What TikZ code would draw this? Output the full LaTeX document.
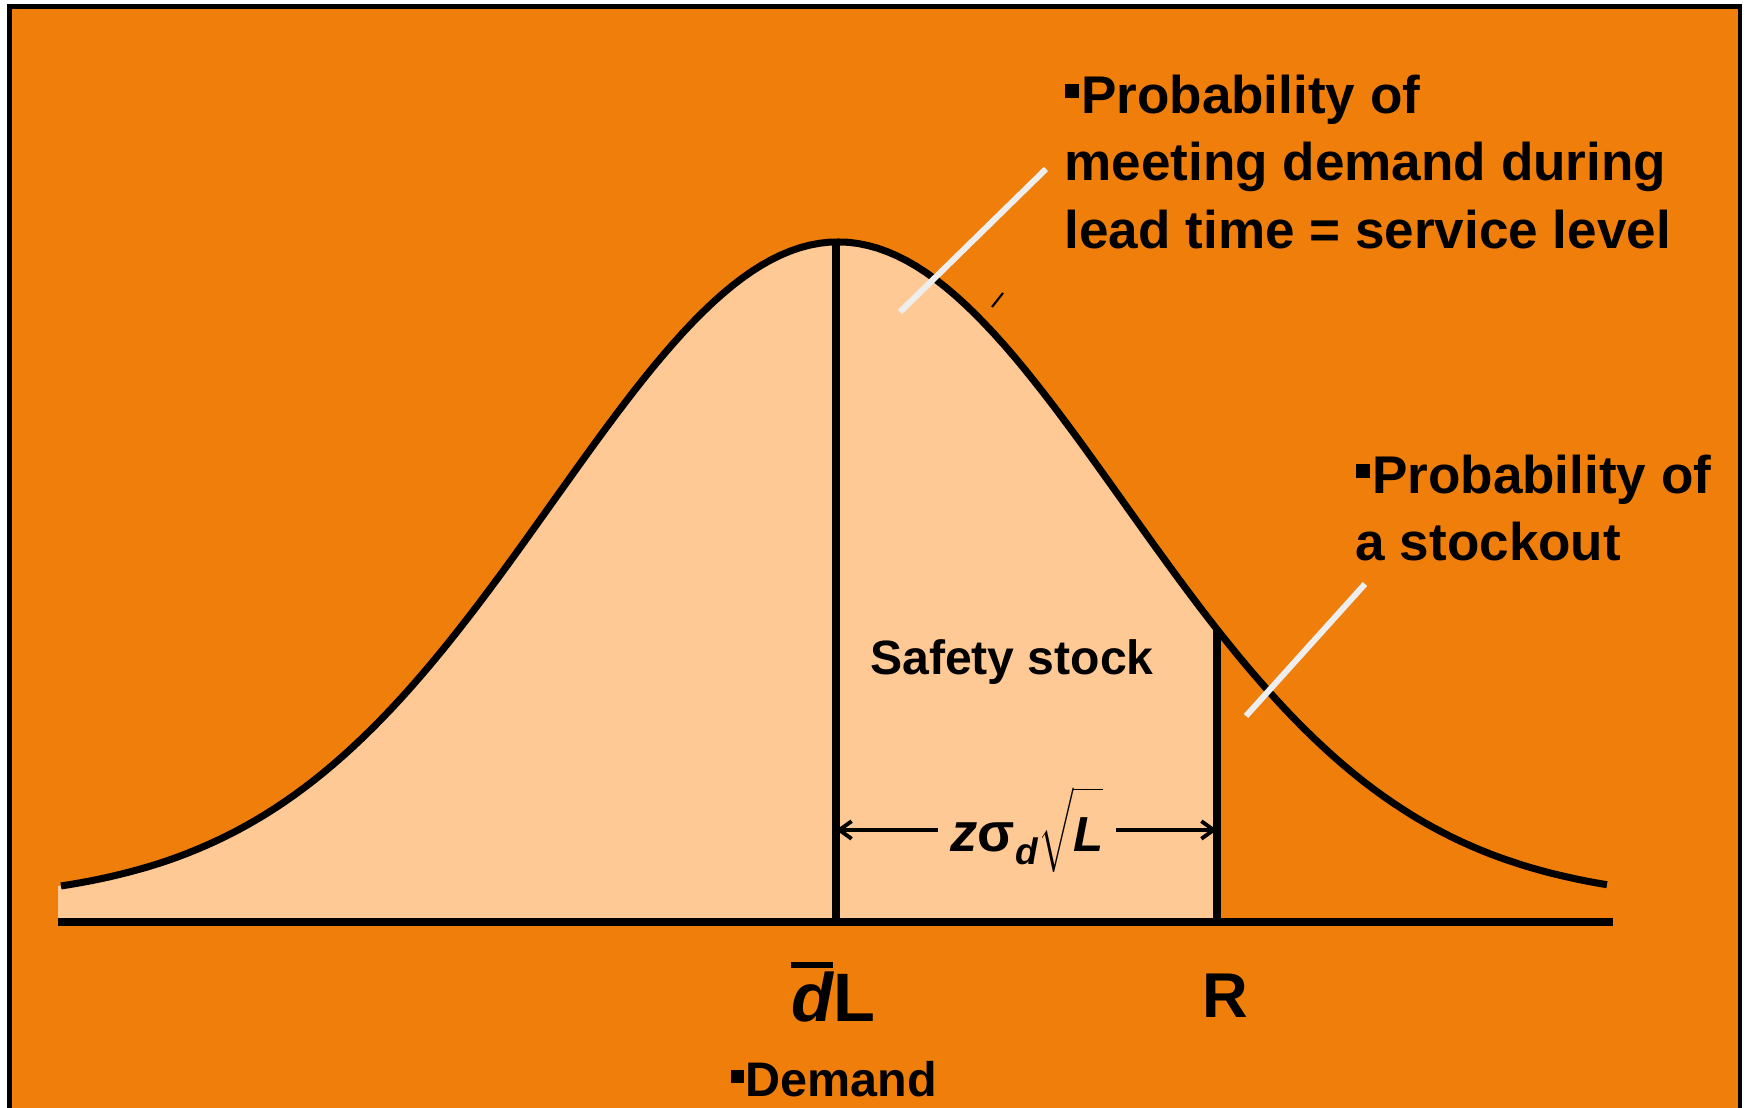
\documentclass[tikz,border=0pt]{standalone}
\usepackage{fontspec}
\setmainfont{Liberation Sans}
\usetikzlibrary{arrows.meta}
\definecolor{slide-orange}{HTML}{EF7F0A}
\definecolor{area-fill}{HTML}{FFC995}
\definecolor{leader-grey}{HTML}{EEEEEE}
\newcommand{\sqbullet}{\rule[0.28em]{0.27em}{0.27em}\kern0.04em}
\newcommand{\barred}[1]{\vbox{\hrule height 1.6pt\kern 1.2pt\hbox{#1}}}
\pgfmathdeclarefunction{bell}{1}{\pgfmathparse{2.06+6.6*exp(-0.5*((#1-8.38)/2.85)^2)}}

\begin{document}
\begin{tikzpicture}[
    curve/.style={line width=2pt, black},
    leader/.style={line width=1.7pt, leader-grey},
    bigtext/.style={font=\bfseries\fontsize{15.1}{19.2}\selectfont, align=left, inner sep=0pt},
    dimarrow/.style={line width=1.1pt, -{Straight Barb[length=3.5pt,width=5pt]}}]
    \useasboundingbox (0,0) rectangle (17.48,11.08);
    \fill[white] (0,0) rectangle (17.48,11.08);
    \draw[line width=1.4pt, fill=slide-orange] (0.095,-0.1) rectangle (17.40,11.015);
    % area up to R
    \fill[area-fill] (0.58,1.86) -- (0.58,{bell(0.61)})
      -- plot[domain=0.61:12.17, samples=120] (\x,{bell(\x)}) -- (12.17,1.86) -- cycle;
    \coordinate (mu) at (8.36,1.86);
    \coordinate (rp) at (12.17,1.86);
    \draw[curve] (mu) -- (8.36,{bell(8.36)});
    \draw[curve] (rp) -- (12.17,{bell(12.17)});
    \draw[curve] plot[domain=0.61:16.07, samples=160] (\x,{bell(\x)});
    \draw[curve] (0.58,1.86) -- (16.13,1.86);
    \draw[line width=0.6pt] (9.92,8.01) -- (10.03,8.15);
    % labels
    \node[bigtext, anchor=north west] (served) at (10.64,10.34)
      {\sqbullet Probability of\\ meeting demand during\\ lead time = service level};
    \node[bigtext, anchor=north west] (stockout) at (13.55,6.54)
      {\sqbullet Probability of\\ a stockout};
    \node[font=\bfseries\fontsize{13.7}{16}\selectfont, anchor=base] (safety) at (10.12,4.33) {Safety stock};
    \node[font=\bfseries\fontsize{15.5}{18}\selectfont, inner sep=0.12cm] (zlbl) at (10.27,2.78)
      {\textit{z}σ\raisebox{-0.45ex}{\fontsize{10.5}{10}\selectfont\textit{d}}$\sqrt{\rule[-4pt]{0pt}{19pt}\mbox{\fontsize{14}{14}\selectfont\bfseries\itshape L}}$};
    \draw[dimarrow] (zlbl.west) -- (zlbl.west -| mu);
    \draw[dimarrow] (zlbl.east) -- (zlbl.east -| rp);
    \node[font=\bfseries\fontsize{19.5}{22}\selectfont, anchor=base] (dl) at (8.33,0.86)
      {\barred{\itshape d}L};
    \node[font=\bfseries\fontsize{18}{22}\selectfont, anchor=base] (rlbl) at (12.25,0.90) {R};
    \node[font=\bfseries\fontsize{13.8}{16}\selectfont, anchor=base west, inner sep=0pt] (demand) at (7.30,0.11)
      {\sqbullet Demand};
    % white leaders
    \coordinate (lead1a) at (10.46,9.39);
    \coordinate (lead1b) at (9.00,7.96);
    \coordinate (lead2a) at (13.65,5.24);
    \coordinate (lead2b) at (12.46,3.92);
    \draw[leader] (lead1a) -- (lead1b);
    \draw[leader] (lead2a) -- (lead2b);
\end{tikzpicture}
\end{document}
